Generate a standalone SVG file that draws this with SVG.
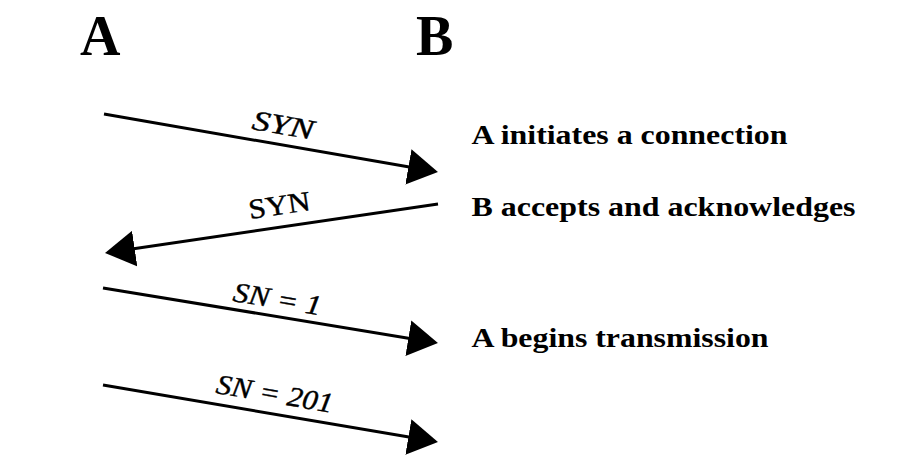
<svg xmlns="http://www.w3.org/2000/svg" width="902" height="466" viewBox="0 0 902 466">
<style>
.hdr{font-family:"Liberation Serif","Times New Roman",serif;font-weight:bold;font-size:56px;fill:#000}
.note{font-family:"Liberation Serif","Times New Roman",serif;font-weight:bold;font-size:27px;fill:#000}
.lbl{font-family:"Liberation Serif","Times New Roman",serif;font-size:28px;fill:#000;stroke:#000;stroke-width:0.4}
.it{font-style:italic}
.msg{stroke:#000;stroke-width:3;fill:none;marker-end:url(#ah)}
</style>
<defs>
<marker id="ah" markerUnits="userSpaceOnUse" viewBox="0 0 30 36" markerWidth="30" markerHeight="36" refX="20" refY="18" orient="auto">
<path d="M0,0 L30,18 L0,36 z" fill="#000"/>
</marker>
</defs>
<rect width="902" height="466" fill="#fff"/>
<g id="nodeA"><text class="hdr" x="80" y="55">A</text></g>
<g id="nodeB"><text class="hdr" x="416" y="55">B</text></g>
<g id="connectors">
<line class="msg" x1="104" y1="114" x2="428.1" y2="170.3"/>
<line class="msg" x1="438" y1="204" x2="114.9" y2="251.5"/>
<line class="msg" x1="103" y1="288" x2="428.1" y2="341.4"/>
<line class="msg" x1="103" y1="385" x2="428.1" y2="440.3"/>
</g>
<g id="labels">
<text class="lbl it" x="251" y="129" transform="rotate(9.85 251 129)" textLength="62" lengthAdjust="spacingAndGlyphs">SYN</text>
<text class="lbl" x="250" y="219" transform="rotate(-8.4 250 219)" textLength="62" lengthAdjust="spacingAndGlyphs">SYN</text>
<text class="lbl it" x="232" y="301" transform="rotate(9.3 232 301)" textLength="89" lengthAdjust="spacingAndGlyphs">SN = 1</text>
<text class="lbl it" x="215" y="393" transform="rotate(9.65 215 393)" textLength="118" lengthAdjust="spacingAndGlyphs">SN = 201</text>
</g>
<g id="notes">
<text class="note" x="471.5" y="144" textLength="316" lengthAdjust="spacingAndGlyphs">A initiates a connection</text>
<text class="note" x="471.5" y="216" textLength="384" lengthAdjust="spacingAndGlyphs">B accepts and acknowledges</text>
<text class="note" x="471.5" y="347" textLength="297" lengthAdjust="spacingAndGlyphs">A begins transmission</text>
</g>
</svg>
